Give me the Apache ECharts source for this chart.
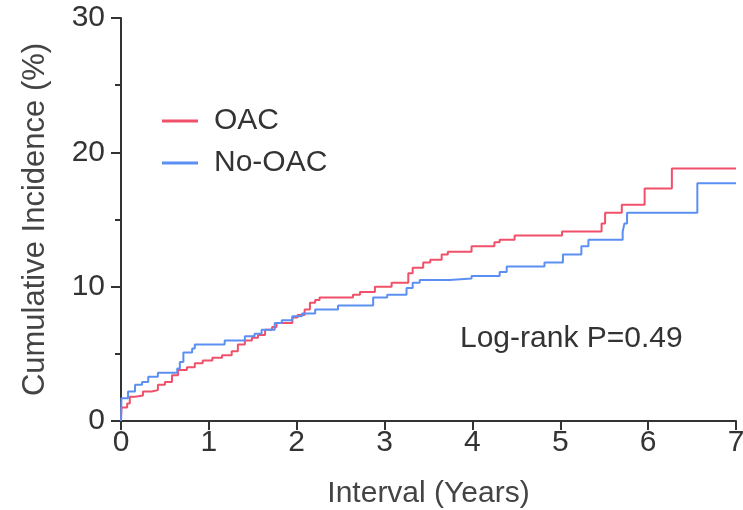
<!DOCTYPE html>
<html>
<head>
<meta charset="utf-8">
<script src="https://cdn.jsdelivr.net/npm/echarts@6/dist/echarts.min.js"></script>
<style>html,body{margin:0;padding:0;background:#fff}#c{width:743px;height:510px}</style>
</head>
<body>
<div id="c"></div>
<script>
var xTicks = [0, 1, 2, 3, 4, 5, 6, 7];
var yTicks = [0, 10, 20, 30];
var seriesNames = ['OAC', 'No-OAC'];
var oacTimes = [0, 0.005, 0.07, 0.10, 0.16, 0.25, 0.35, 0.42, 0.50, 0.58, 0.65, 0.75, 0.84, 0.93, 1.04, 1.15, 1.26, 1.33, 1.41, 1.49, 1.56, 1.64, 1.72, 1.77, 1.95, 2.01, 2.09, 2.15, 2.21, 2.26, 2.64, 2.72, 2.89, 3.08, 3.27, 3.32, 3.44, 3.52, 3.65, 3.72, 3.99, 4.25, 4.31, 4.48, 5.02, 5.47, 5.51, 5.70, 5.96, 6.27, 7.00];
var oacValues = [0, 1.0, 1.3, 1.8, 1.9, 2.2, 2.3, 2.7, 2.9, 3.4, 3.8, 4.0, 4.3, 4.5, 4.7, 4.9, 5.2, 5.7, 6.0, 6.2, 6.4, 6.8, 7.0, 7.3, 7.7, 7.9, 8.3, 8.8, 9.0, 9.2, 9.4, 9.6, 10.0, 10.3, 11.0, 11.4, 11.8, 12.0, 12.4, 12.6, 13.0, 13.3, 13.5, 13.8, 14.1, 14.7, 15.5, 16.1, 17.3, 18.8, 18.8];
var noOacTimes = [0, 0.005, 0.08, 0.16, 0.24, 0.31, 0.42, 0.64, 0.67, 0.71, 0.81, 0.84, 1.18, 1.41, 1.52, 1.60, 1.75, 1.83, 1.95, 2.06, 2.21, 2.47, 2.87, 3.03, 3.25, 3.32, 3.40, 3.74, 3.99, 4.31, 4.39, 4.82, 5.03, 5.24, 5.32, 5.71, 5.73, 5.76, 6.56, 7.00];
var noOacValues = [0, 1.7, 2.2, 2.7, 2.9, 3.3, 3.6, 3.9, 4.4, 5.1, 5.4, 5.7, 6.0, 6.3, 6.5, 6.8, 7.3, 7.5, 7.8, 8.0, 8.3, 8.6, 9.2, 9.4, 9.9, 10.3, 10.5, 10.6, 10.8, 11.1, 11.5, 11.8, 12.4, 13.0, 13.5, 14.1, 14.7, 15.5, 17.7, 17.7];
var annotation = 'Log-rank P=0.49';

function pairs(t, v) { return t.map(function (x, i) { return [x, v[i]]; }); }

var font = 'Liberation Sans, Arial, sans-serif';
var chart = echarts.init(document.getElementById('c'));
chart.setOption({
  animation: false,
  backgroundColor: '#fff',
  textStyle: { fontFamily: font },
  grid: { left: 121, right: 7, top: 18, bottom: 89, containLabel: false, outerBoundsMode: 'none' },
  legend: {
    orient: 'vertical', left: 157, top: 101, itemWidth: 36, itemHeight: 3, itemGap: 12,
    icon: 'rect',
    data: seriesNames,
    textStyle: { fontSize: 30, color: '#333', fontFamily: font, padding: [0, 0, 0, 11] }
  },
  xAxis: {
    type: 'value', min: xTicks[0], max: xTicks[xTicks.length - 1], interval: 1,
    name: 'Interval (Years)', nameLocation: 'middle', nameGap: 58,
    nameTextStyle: { fontSize: 30, color: '#444', fontFamily: font },
    axisLine: { show: true, lineStyle: { color: '#333', width: 2 } },
    axisTick: { show: true, length: 9, lineStyle: { color: '#333', width: 2 } },
    axisLabel: { fontSize: 30, color: '#333', margin: 7, fontFamily: font },
    splitLine: { show: false }
  },
  yAxis: {
    type: 'value', min: yTicks[0], max: yTicks[yTicks.length - 1], interval: 10,
    name: 'Cumulative Incidence (%)', nameLocation: 'middle', nameGap: 70, nameRotate: 90,
    nameTextStyle: { fontSize: 31, color: '#444', fontFamily: font },
    axisLine: { show: true, lineStyle: { color: '#333', width: 2 } },
    axisTick: { show: true, length: 10, lineStyle: { color: '#333', width: 2 } },
    minorTick: { show: true, splitNumber: 2, length: 6, lineStyle: { color: '#333', width: 2 } },
    axisLabel: { fontSize: 30, color: '#333', margin: 16, fontFamily: font },
    splitLine: { show: false }
  },
  series: [
    { name: seriesNames[0], type: 'line', step: 'end', symbol: 'none', data: pairs(oacTimes, oacValues),
      lineStyle: { color: '#f0506a', width: 2 }, itemStyle: { color: '#f0506a' } },
    { name: seriesNames[1], type: 'line', step: 'end', symbol: 'none', data: pairs(noOacTimes, noOacValues),
      lineStyle: { color: '#5b8ff2', width: 2 }, itemStyle: { color: '#5b8ff2' } }
  ],
  graphic: [{
    type: 'text', left: 460, top: 324,
    style: { text: annotation, fontSize: 30, fill: '#333', fontFamily: font }
  }]
});
</script>
</body>
</html>
